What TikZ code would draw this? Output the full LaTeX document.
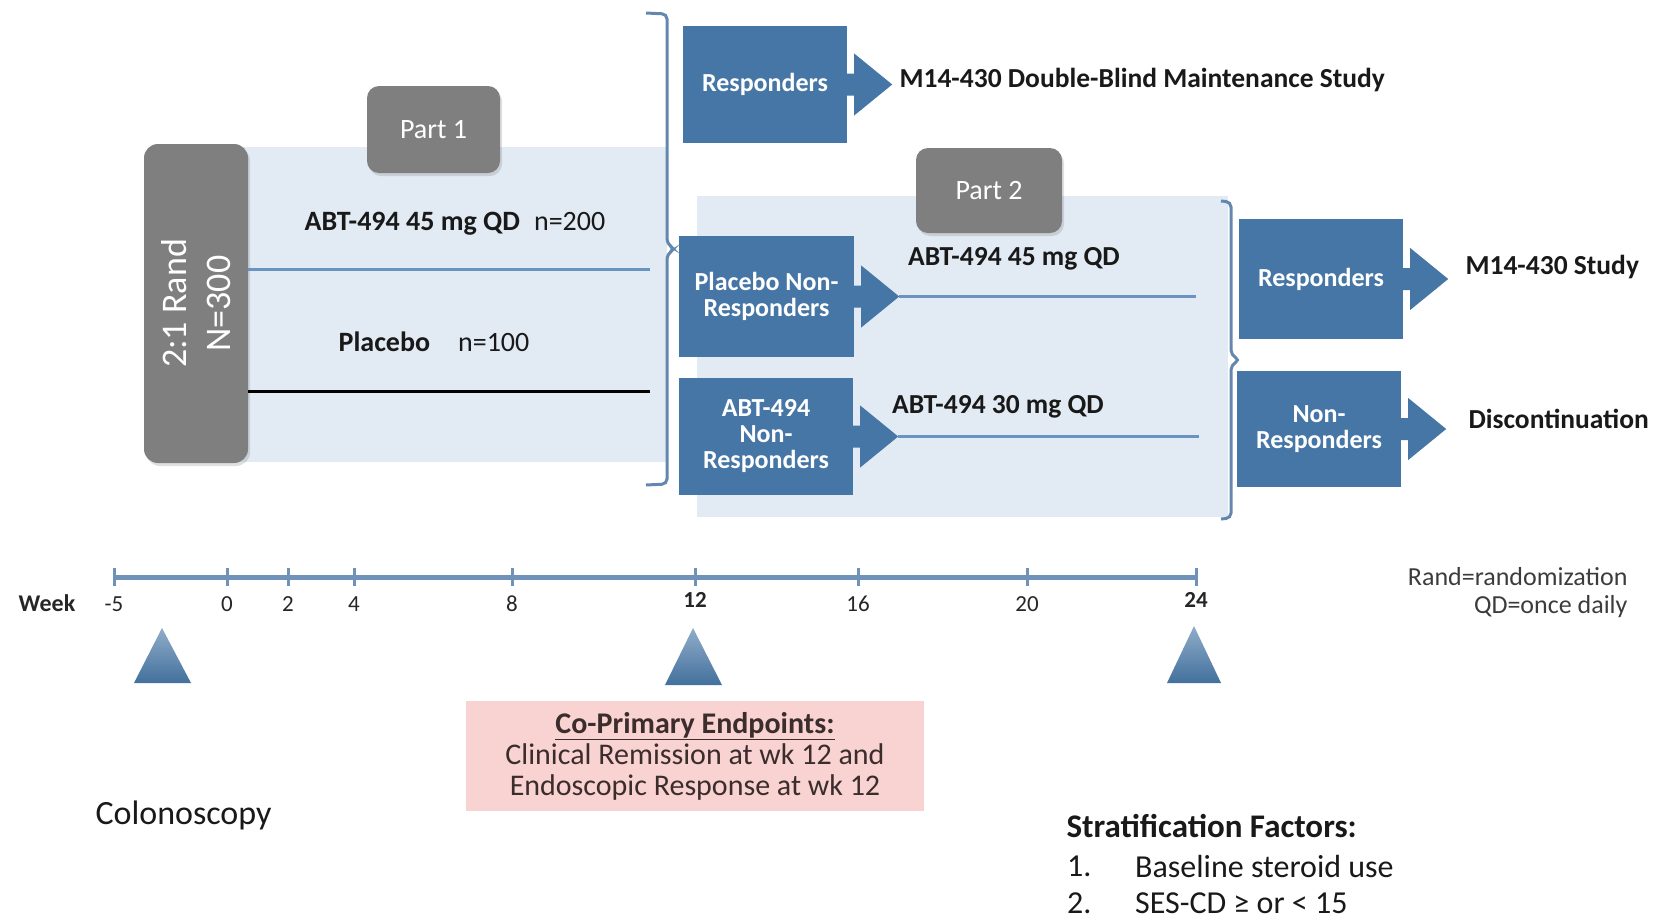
\documentclass[tikz,border=0pt]{standalone}
\usepackage{fontspec}
\setmainfont{Carlito}
\usetikzlibrary{shadows}
\definecolor{studyblue}{RGB}{70,118,165}
\definecolor{partgray}{RGB}{127,127,127}
\definecolor{panelblue}{RGB}{226,234,243}
\definecolor{armblue}{RGB}{105,147,192}
\definecolor{axisblue}{RGB}{112,146,184}
\definecolor{bracketblue}{RGB}{100,135,175}
\definecolor{endpink}{RGB}{249,210,210}
\definecolor{endtext}{RGB}{60,45,45}
\definecolor{notegray}{RGB}{60,60,60}

% block arrow leaving the east side of a box
\newcommand{\outarrow}[1]{\fill[studyblue] (#1.east) ++(-1,-11) -- ++(8,0) -- ++(0,-20) -- ++(38,31) -- ++(-38,31) -- ++(0,-20) -- ++(-8,0) -- cycle;}

\begin{document}
\begin{tikzpicture}[x=1pt, y=-1pt,
    panel/.style={fill=panelblue},
    partbox/.style={fill=partgray, rounded corners=12, text=white, inner sep=0,
      drop shadow={opacity=0.25, shadow xshift=2pt, shadow yshift=-3pt},
      font=\fontsize{28}{32}\selectfont},
    stbox/.style={fill=studyblue, text=white, align=center, inner sep=0,
      font=\bfseries\fontsize{26}{26}\selectfont},
    lbl/.style={text=black!90, font=\fontsize{28}{30}\selectfont},
    blbl/.style={text=black!90, font=\bfseries\fontsize{27.5}{30}\selectfont},
    item/.style={text=black!90, anchor=west, inner sep=0, font=\fontsize{32}{36}\selectfont},
    armline/.style={armblue, line width=3},
    brk/.style={bracketblue, line width=3, rounded corners=5},
    axis/.style={axisblue, line width=5},
    tick/.style={axisblue, line width=3},
    wklbl/.style={text=black!85, font=\fontsize{23}{26}\selectfont},
    tri/.style={top color=studyblue!60, bottom color=studyblue!95!black},
    endbox/.style={fill=endpink, text=endtext, align=center, inner sep=0,
      font=\fontsize{30}{31}\selectfont}
  ]
  \useasboundingbox (0,0) rectangle (1660,919);

  % light panels of the two parts
  \fill[panel] (240,147) rectangle (667,462);
  \fill[panel] (697,196) rectangle (1228,517);

  % part 1
  \node[partbox, rounded corners=14, minimum width=104, minimum height=319] (rand) at (196,303.5) {};
  \node[rotate=90, text=white, align=center, font=\fontsize{36}{44}\selectfont] (randtxt) at (rand.center) {2:1 Rand\\N=300};
  \node[partbox, minimum width=133, minimum height=87] (part1) at (433.5,129.5) {Part 1};

  \node[lbl] (arm45) at (455,224) {\textbf{ABT-494 45 mg QD}\hspace{14pt}n=200};
  \node[lbl] (armpbo) at (434,342) {\textbf{Placebo}\hspace{28pt}n=100};
  \coordinate (arm45e) at (650,269);
  \coordinate (armpboe) at (650,391);
  \draw[armline] (rand.east |- arm45e) -- (arm45e);
  \draw[black, line width=3] (rand.east |- armpboe) -- (armpboe);

  % bracket after week 12
  \draw[brk] (646,13) -- (667,14) -- (667,244) -- (675,249) -- (667,254) -- (667,484) -- (646,485);

  % responders at week 12
  \node[stbox, minimum width=164, minimum height=117] (resp1) at (765,84.5) {Responders};
  \outarrow{resp1}
  \node[blbl, anchor=west] (mtop) at (896,80) {M14-430 Double-Blind Maintenance Study};

  % part 2
  \node[partbox, minimum width=146, minimum height=85] (part2) at (989,190.5) {Part 2};
  \node[stbox, minimum width=175, minimum height=121] (pnr) at (766.5,296.5) {Placebo Non-\\Responders};
  \outarrow{pnr}
  \node[stbox, minimum width=174, minimum height=117] (anr) at (766,436.5) {ABT-494\\Non-\\Responders};
  \outarrow{anr}

  \node[blbl] (arm45b) at (1014,259) {ABT-494 45 mg QD};
  \node[blbl] (arm30) at (998,407) {ABT-494 30 mg QD};
  \coordinate (arm45be) at (1196,294);
  \coordinate (arm30e) at (1199,448);
  \draw[armline] ([xshift=45]pnr.east) -- (pnr.east -| arm45be);
  \draw[armline] ([xshift=45]anr.east) -- (anr.east -| arm30e);

  % bracket after week 24
  \draw[brk] (1221,201) -- (1231,202) -- (1231,355) -- (1240,360) -- (1231,365) -- (1231,518) -- (1221,519);

  \node[stbox, minimum width=164, minimum height=120] (resp2) at (1321,279) {Responders};
  \outarrow{resp2}
  \node[blbl, anchor=west] (m2) at (1462,267) {M14-430 Study};
  \node[stbox, minimum width=164, minimum height=116] (nonr) at (1319,429) {Non-\\Responders};
  \outarrow{nonr}
  \node[blbl, anchor=west] (disc) at (1465,419) {Discontinuation};

  % time line
  \coordinate (ax0) at (114,577);
  \coordinate (ax1) at (1196,577);
  \draw[axis] (ax0) -- (ax1);
  \node[wklbl, font=\bfseries\fontsize{24}{26}\selectfont] (week) at (47,603) {Week};
  \foreach \x/\w [count=\i] in {114/-5, 227/0, 288/2, 354/4, 512/8, 858/16, 1027/20} {
    \draw[tick] (\x,568) -- (\x,586);
    \node[wklbl] (wk\i) at (\x,604) {\w};
  }
  \foreach \x/\w [count=\i] in {695/12, 1196/24} {
    \draw[tick] (\x,568) -- (\x,586);
    \node[wklbl, font=\bfseries\fontsize{23}{26}\selectfont] (wkb\i) at (\x,600) {\w};
  }

  % visit markers
  \shade[tri] (134,683) -- (162,628) -- (191,683) -- cycle;
  \shade[tri] (665,685) -- (693,628) -- (722,685) -- cycle;
  \shade[tri] (1167,683) -- (1194,626) -- (1221,683) -- cycle;

  \node[text=notegray, align=right, anchor=east, font=\fontsize{26}{28}\selectfont] (abbr) at (1631,593) {Rand=randomization\\QD=once daily};

  \node[endbox, minimum width=458, minimum height=110] (endp) at (695,756)
    {\textbf{\underline{Co-Primary Endpoints:}}\\Clinical Remission at wk 12 and\\Endoscopic Response at wk 12};

  \node[lbl, anchor=west, font=\fontsize{34}{36}\selectfont] (colo) at (92,815) {Colonoscopy};

  \node[blbl, anchor=west, font=\bfseries\fontsize{33}{36}\selectfont] (strat) at (1063,826) {Stratification Factors:};
  \node[item] (s1n) at (1067,866) {1.};
  \node[item] (s1) at (1135,866) {Baseline steroid use};
  \node[item] (s2n) at (1067,903) {2.};
  \node[item] (s2) at (1135,903) {SES-CD ≥ or < 15};
\end{tikzpicture}
\end{document}
